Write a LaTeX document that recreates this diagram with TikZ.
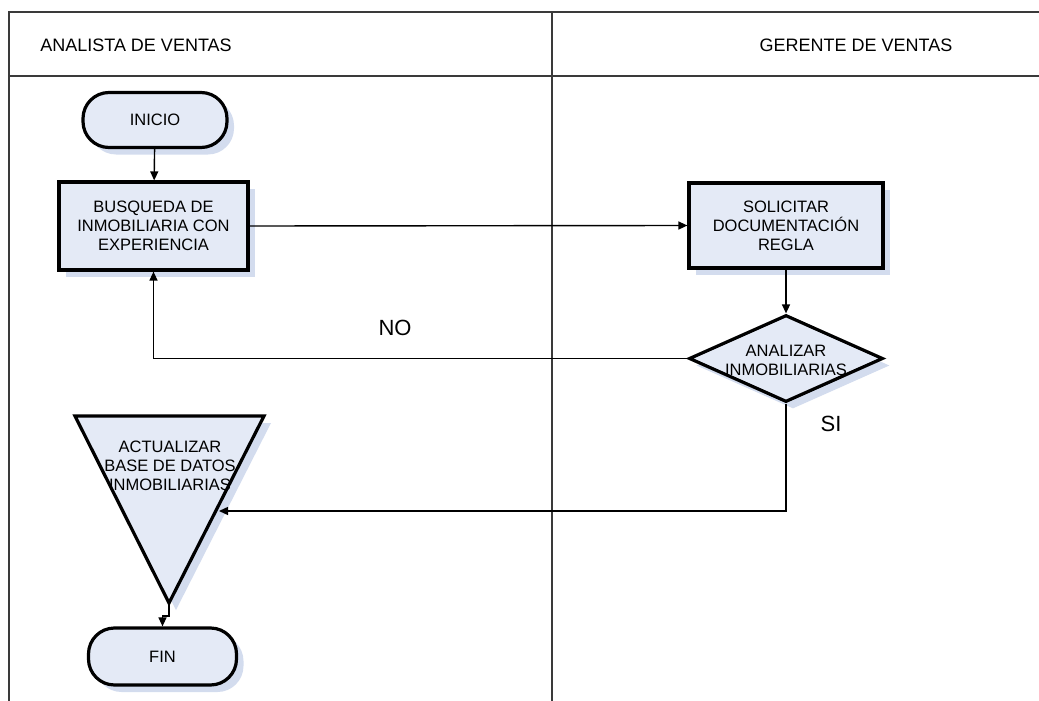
\documentclass[tikz,border=0pt]{standalone}
\usepackage{fontspec}
\setmainfont{Liberation Sans}
\usetikzlibrary{shapes.geometric,shadows,arrows.meta}

\definecolor{boxfill}{HTML}{E4EAF6}
\definecolor{boxshadow}{HTML}{D3DCEE}
\definecolor{laneline}{HTML}{3A3A3A}

\tikzset{
  lane/.style={draw=laneline, line width=1.6pt},
  lanetitle/.style={font=\fontsize{18}{21}\selectfont, anchor=center},
  shaped/.style={draw=black, line width=3.2pt, fill=boxfill,
    drop shadow={fill=boxshadow, opacity=1, shadow xshift=7pt, shadow yshift=-7pt}},
  boxtext/.style={font=\fontsize{16.5}{19}\selectfont, align=center},
  terminal/.style={shaped, boxtext, rectangle, rounded corners=26pt},
  process/.style={shaped, boxtext, rectangle},
  decision/.style={shaped, diamond, inner sep=0pt},
  flow/.style={line width=1.4pt, -{Triangle[length=9pt,width=8pt]}},
  answer/.style={font=\fontsize{22}{24}\selectfont}
}

\begin{document}
\begin{tikzpicture}[x=1pt, y=-1pt]
  \useasboundingbox (0,0) rectangle (1039,701);

  % swimlane frame: open on the right and at the bottom
  \coordinate (fTL) at (9,12);
  \coordinate (fTR) at (1039,12);
  \coordinate (fHL) at (9,76);
  \coordinate (fHR) at (1039,76);
  \coordinate (fBL) at (9,701);
  \coordinate (dTop) at (552,12);
  \coordinate (dBot) at (552,701);
  \draw[lane] (fTR) -- (fTL) -- (fBL);
  \draw[lane] (fHL) -- (fHR);
  \draw[lane] (dTop) -- (dBot);
  \node[lanetitle] (laneA) at (136,45) {ANALISTA DE VENTAS};
  \node[lanetitle] (laneB) at (856,45) {GERENTE DE VENTAS};

  % flow shapes
  \node[terminal, minimum width=144pt, minimum height=55pt] (inicio) at (155,120) {INICIO};
  \node[process, minimum width=189pt, minimum height=88pt] (busqueda) at (153.5,226)
    {BUSQUEDA DE\\INMOBILIARIA CON\\EXPERIENCIA};
  \node[process, minimum width=194pt, minimum height=85pt] (solicitar) at (786,225.5)
    {SOLICITAR\\DOCUMENTACIÓN\\REGLA};
  \node[decision, minimum width=194pt, minimum height=87pt] (analizar) at (786,358.5) {};
  \node[boxtext] (analizarText) at (786,360) {ANALIZAR\\INMOBILIARIAS};

  % merge triangle
  \coordinate (triL) at (75,416);
  \coordinate (triR) at (264,416);
  \coordinate (triApex) at (169,603);
  \path[shaped, line join=miter] (triL) -- (triR) -- (triApex) -- cycle;
  \node[boxtext] (actualizar) at (170,466) {ACTUALIZAR\\BASE DE DATOS\\INMOBILIARIAS};
  \coordinate (triIn) at (219,511);

  \node[terminal, minimum width=148pt, minimum height=57pt] (fin) at (162.5,656.5) {FIN};

  % connectors
  \draw[flow] (inicio) -- (busqueda);
  \draw[flow] (busqueda.east) -- (solicitar.west);
  \draw[flow] (solicitar.south -| analizar.north) -- (analizar.north);
  \draw[flow] (analizar.west) -| (busqueda.south);
  \draw[flow] (analizar.south) |- (triIn);
  \draw[flow] (triApex) -- ++(0,13) -| (fin.north);

  % decision labels
  \node[answer] (no) at (395,328) {NO};
  \node[answer] (si) at (831,424) {SI};
\end{tikzpicture}
\end{document}
